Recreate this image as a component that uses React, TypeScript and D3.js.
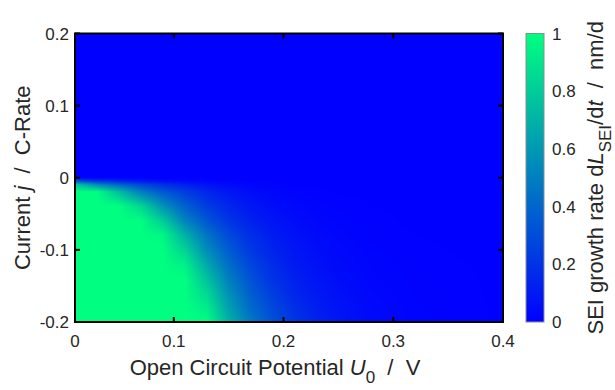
import { useEffect, useState } from 'react';
import * as d3 from 'd3';

// Open circuit potential U0 (V) at which the growth rate was read
const potentials = [0.01, 0.03, 0.05, 0.07, 0.09, 0.11, 0.13, 0.15, 0.17, 0.19, 0.21, 0.23, 0.25, 0.28, 0.32, 0.4];
// Current j (C-Rate), top row first
const currents = [0.2, 0, -0.005, -0.01, -0.02, -0.04, -0.06, -0.08, -0.1, -0.12, -0.14, -0.16, -0.18, -0.2];

// SEI growth rate (nm/d), one row per current (clipped at colour limit 1)
const rateP200 = [0, 0, 0, 0, 0, 0, 0, 0, 0, 0, 0, 0, 0, 0, 0, 0];
const rateP000 = [0, 0, 0, 0, 0, 0, 0, 0, 0, 0, 0, 0, 0, 0, 0, 0];
const rateM005 = [0.35, 0.22, 0.15, 0.1, 0.06, 0.035, 0.02, 0.01, 0, 0, 0, 0, 0, 0, 0, 0];
const rateM010 = [0.8, 0.55, 0.4, 0.28, 0.19, 0.12, 0.07, 0.04, 0.02, 0.01, 0, 0, 0, 0, 0, 0];
const rateM020 = [1, 1, 0.75, 0.5, 0.35, 0.24, 0.15, 0.09, 0.05, 0.025, 0.012, 0.005, 0, 0, 0, 0];
const rateM040 = [1, 1, 1, 0.85, 0.58, 0.38, 0.24, 0.15, 0.09, 0.05, 0.03, 0.015, 0.008, 0.002, 0, 0];
const rateM060 = [1, 1, 1, 1, 0.8, 0.52, 0.34, 0.21, 0.13, 0.08, 0.045, 0.025, 0.014, 0.005, 0, 0];
const rateM080 = [1, 1, 1, 1, 0.97, 0.7, 0.46, 0.29, 0.18, 0.11, 0.065, 0.038, 0.022, 0.008, 0.002, 0];
const rateM100 = [1, 1, 1, 1, 1, 0.83, 0.55, 0.36, 0.22, 0.14, 0.085, 0.05, 0.03, 0.012, 0.003, 0];
const rateM120 = [1, 1, 1, 1, 1, 0.94, 0.66, 0.43, 0.27, 0.17, 0.1, 0.062, 0.038, 0.016, 0.005, 0];
const rateM140 = [1, 1, 1, 1, 1, 1, 0.76, 0.5, 0.32, 0.2, 0.125, 0.078, 0.048, 0.02, 0.007, 0];
const rateM160 = [1, 1, 1, 1, 1, 1, 0.85, 0.57, 0.37, 0.24, 0.15, 0.095, 0.06, 0.027, 0.009, 0];
const rateM180 = [1, 1, 1, 1, 1, 1, 0.93, 0.63, 0.42, 0.28, 0.18, 0.115, 0.072, 0.034, 0.011, 0];
const rateM200 = [1, 1, 1, 1, 1, 1, 1, 0.7, 0.48, 0.32, 0.21, 0.135, 0.085, 0.04, 0.013, 0];
const growthRate = [
	rateP200, rateP000, rateM005, rateM010, rateM020, rateM040, rateM060,
	rateM080, rateM100, rateM120, rateM140, rateM160, rateM180, rateM200,
];

const xTicks = [0.01, 0.1, 0.2, 0.3, 0.4];
const xTickLabels = ['0', '0.1', '0.2', '0.3', '0.4'];
const yTicks = [0.2, 0.1, 0, -0.1, -0.2];
const yTickLabels = ['0.2', '0.1', '0', '-0.1', '-0.2'];
const cTicks = [0, 0.2, 0.4, 0.6, 0.8, 1];
const cTickLabels = ['0', '0.2', '0.4', '0.6', '0.8', '1'];

const W = 615;
const H = 390;
const plot = { left: 75, right: 503, top: 33.5, bottom: 322 };
const bar = { left: 526, right: 544 };
const font = '"Liberation Sans", Arial, Helvetica, sans-serif';

const x = d3.scaleLinear().domain([0.01, 0.4]).range([plot.left, plot.right]);
const y = d3.scaleLinear().domain([-0.2, 0.2]).range([plot.bottom, plot.top]);
const c = d3.scaleLinear().domain([0, 1]).range([plot.bottom, plot.top]);
// MATLAB "winter" colormap
const color = d3.scaleLinear<string>().domain([0, 1]).range(['rgb(0,0,255)', 'rgb(0,255,128)']).clamp(true);

export default function App() {
	const [heatmap, setHeatmap] = useState<string>('');

	useEffect(() => {
		const w = Math.round(plot.right - plot.left);
		const h = Math.round(plot.bottom - plot.top);
		const canvas = document.createElement('canvas');
		canvas.width = w;
		canvas.height = h;
		const ctx = canvas.getContext('2d')!;
		const img = ctx.createImageData(w, h);

		// fractional grid index for a potential / current
		const col = d3.scaleLinear().domain(potentials).range(d3.range(potentials.length)).clamp(true);
		const row = d3.scaleLinear().domain(currents).range(d3.range(currents.length)).clamp(true);

		for (let py = 0; py < h; py++) {
			const fr = row(y.invert(plot.top + py + 0.5));
			const r0 = Math.min(Math.floor(fr), currents.length - 2);
			const tr = fr - r0;
			for (let px = 0; px < w; px++) {
				const fc = col(x.invert(plot.left + px + 0.5));
				const c0 = Math.min(Math.floor(fc), potentials.length - 2);
				const tc = fc - c0;
				const v =
					(1 - tr) * ((1 - tc) * growthRate[r0][c0] + tc * growthRate[r0][c0 + 1]) +
					tr * ((1 - tc) * growthRate[r0 + 1][c0] + tc * growthRate[r0 + 1][c0 + 1]);
				const rgb = d3.rgb(color(v));
				const k = (py * w + px) * 4;
				img.data[k] = rgb.r;
				img.data[k + 1] = rgb.g;
				img.data[k + 2] = rgb.b;
				img.data[k + 3] = 255;
			}
		}
		ctx.putImageData(img, 0, 0);
		setHeatmap(canvas.toDataURL());
	}, []);

	return (
		<svg width={W} height={H} style={{ position: 'absolute', left: 0, top: 0, background: '#fff' }} fontFamily={font}>
			<defs>
				<linearGradient id="winter" x1="0" y1="1" x2="0" y2="0">
					<stop offset="0%" stopColor={color(0)} />
					<stop offset="100%" stopColor={color(1)} />
				</linearGradient>
			</defs>

			{heatmap && (
				<image
					href={heatmap}
					x={plot.left}
					y={plot.top}
					width={plot.right - plot.left}
					height={plot.bottom - plot.top}
					preserveAspectRatio="none"
				/>
			)}

			{/* ticks, inward on all four sides */}
			<g stroke="#000" strokeWidth={2}>
				{xTicks.map((t) => (
					<g key={'x' + t}>
						<line x1={x(t)} x2={x(t)} y1={plot.bottom} y2={plot.bottom - 5} />
						<line x1={x(t)} x2={x(t)} y1={plot.top} y2={plot.top + 5} />
					</g>
				))}
				{yTicks.map((t) => (
					<g key={'y' + t}>
						<line x1={plot.left} x2={plot.left + 5} y1={y(t)} y2={y(t)} />
						<line x1={plot.right} x2={plot.right - 5} y1={y(t)} y2={y(t)} />
					</g>
				))}
			</g>
			<rect
				x={plot.left}
				y={plot.top}
				width={plot.right - plot.left}
				height={plot.bottom - plot.top}
				fill="none"
				stroke="#000"
				strokeWidth={2}
			/>

			{/* tick labels */}
			<g fontSize={17} fill="#262626">
				{xTicks.map((t, i) => (
					<text key={'xl' + t} x={x(t)} y={347} textAnchor="middle">
						{xTickLabels[i]}
					</text>
				))}
				{yTicks.map((t, i) => (
					<text key={'yl' + t} x={69} y={y(t)} dy="0.36em" textAnchor="end">
						{yTickLabels[i]}
					</text>
				))}
			</g>

			{/* axis titles */}
			<text x={275} y={375} fontSize={22} textAnchor="middle" fill="#262626" style={{ whiteSpace: 'pre' }}>
				Open Circuit Potential <tspan fontStyle="italic">U</tspan>
				<tspan fontSize={17} dy={8}>0</tspan>
				<tspan dy={-8}>{'  /  V'}</tspan>
			</text>
			<text
				transform={`translate(30,${(plot.top + plot.bottom) / 2}) rotate(-90)`}
				fontSize={22}
				textAnchor="middle"
				fill="#262626"
				style={{ whiteSpace: 'pre' }}
			>
				Current <tspan fontStyle="italic">j</tspan>
				{'  /  C-Rate'}
			</text>

			{/* colour bar */}
			<rect
				x={bar.left}
				y={plot.top}
				width={bar.right - bar.left}
				height={plot.bottom - plot.top}
				fill="url(#winter)"
				stroke="#8c8c8c"
				strokeWidth={1}
			/>
			<g fontSize={17} fill="#262626">
				{cTicks.map((t, i) => (
					<text key={'cl' + t} x={552} y={c(t)} dy="0.36em">
						{cTickLabels[i]}
					</text>
				))}
			</g>
			<text
				transform={`translate(603,${(plot.top + plot.bottom) / 2}) rotate(-90)`}
				fontSize={22}
				textAnchor="middle"
				fill="#262626"
				style={{ whiteSpace: 'pre' }}
			>
				SEI growth rate d<tspan fontStyle="italic">L</tspan>
				<tspan fontSize={17} dy={8}>SEI</tspan>
				<tspan dy={-8}>/d</tspan>
				<tspan fontStyle="italic">t</tspan>
				{'  /  nm/d'}
			</text>
		</svg>
	);
}
